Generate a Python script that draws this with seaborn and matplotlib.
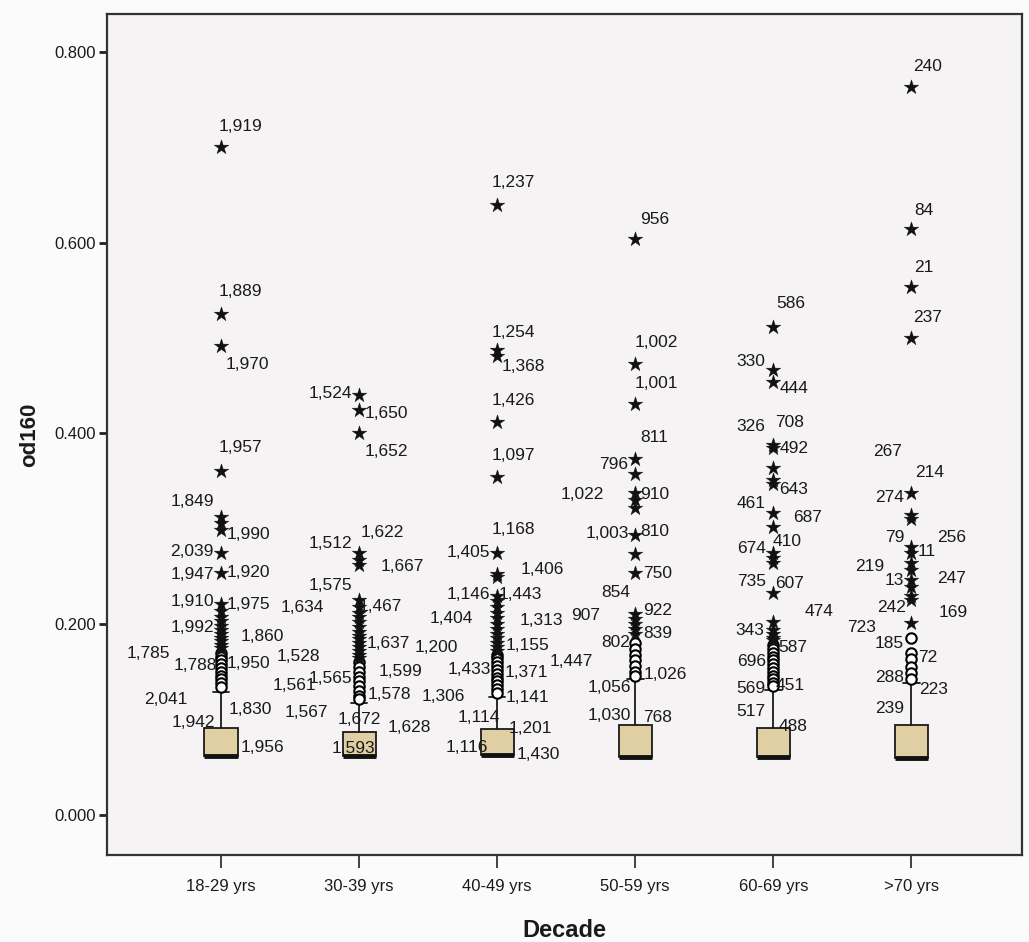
import matplotlib
matplotlib.use("Agg")
import matplotlib.pyplot as plt
from matplotlib.ticker import FuncFormatter
import numpy as np
import pandas as pd
import seaborn as sns

# ---------------- data ----------------
decades = ["18-29 yrs", "30-39 yrs", "40-49 yrs", "50-59 yrs", "60-69 yrs", ">70 yrs"]

box_q1 = [0.062, 0.062, 0.063, 0.061, 0.061, 0.060]
box_median = [0.062, 0.062, 0.063, 0.061, 0.061, 0.060]
box_q3 = [0.091, 0.087, 0.090, 0.094, 0.091, 0.094]
whisker_low = [0.062, 0.062, 0.063, 0.061, 0.061, 0.060]
whisker_high = [0.129, 0.117, 0.124, 0.142, 0.131, 0.138]

# extreme values (stars)
extremes_18_29 = [0.700, 0.525, 0.492, 0.361, 0.312, 0.306, 0.299, 0.275, 0.254, 0.221,
                  0.214, 0.208, 0.203, 0.198, 0.194, 0.190, 0.186, 0.182, 0.178, 0.175]
extremes_30_39 = [0.440, 0.425, 0.400, 0.275, 0.267, 0.262, 0.225, 0.218, 0.212, 0.207,
                  0.202, 0.197, 0.192, 0.188, 0.184, 0.180, 0.176, 0.172, 0.168, 0.165]
extremes_40_49 = [0.640, 0.487, 0.481, 0.412, 0.354, 0.275, 0.253, 0.249, 0.230, 0.224,
                  0.218, 0.212, 0.206, 0.200, 0.195, 0.190, 0.185, 0.180, 0.176, 0.172]
extremes_50_59 = [0.604, 0.473, 0.431, 0.373, 0.357, 0.338, 0.330, 0.322, 0.293, 0.274,
                  0.254, 0.211, 0.205, 0.200, 0.195, 0.190]
extremes_60_69 = [0.512, 0.467, 0.454, 0.388, 0.385, 0.364, 0.351, 0.347, 0.317, 0.302,
                  0.275, 0.269, 0.264, 0.233, 0.202, 0.194, 0.190, 0.186, 0.183]
extremes_70 = [0.763, 0.614, 0.553, 0.500, 0.338, 0.314, 0.310, 0.281, 0.275, 0.264,
               0.257, 0.246, 0.239, 0.229, 0.225, 0.201]

# outliers (open circles)
outliers_18_29 = [0.170, 0.166, 0.162, 0.158, 0.154, 0.150, 0.146, 0.142, 0.138, 0.134]
outliers_30_39 = [0.160, 0.155, 0.150, 0.145, 0.140, 0.135, 0.130, 0.125, 0.121]
outliers_40_49 = [0.168, 0.164, 0.160, 0.156, 0.152, 0.148, 0.144, 0.140, 0.136, 0.132, 0.128]
outliers_50_59 = [0.180, 0.174, 0.168, 0.162, 0.156, 0.150, 0.146]
outliers_60_69 = [0.178, 0.174, 0.170, 0.166, 0.162, 0.158, 0.154, 0.150, 0.146, 0.142, 0.138, 0.135]
outliers_70 = [0.186, 0.170, 0.163, 0.155, 0.149, 0.142]

# case labels and the value level at which each label sits
case_ids_18_29 = ["1,919", "1,889", "1,970", "1,957", "1,849", "1,990", "2,039", "1,947", "1,920",
                  "1,910", "1,975", "1,992", "1,860", "1,785", "1,788", "1,950", "2,041", "1,830",
                  "1,942", "1,956"]
case_y_18_29 = [0.722, 0.549, 0.472, 0.385, 0.329, 0.294, 0.276, 0.252, 0.254,
                0.224, 0.221, 0.196, 0.187, 0.169, 0.157, 0.159, 0.121, 0.110, 0.097, 0.071]
case_ids_30_39 = ["1,524", "1,650", "1,652", "1,622", "1,512", "1,667", "1,575", "1,467", "1,634",
                  "1,528", "1,637", "1,599", "1,565", "1,561", "1,578", "1,567", "1,672", "1,628",
                  "1,593"]
case_y_30_39 = [0.442, 0.421, 0.381, 0.296, 0.285, 0.260, 0.241, 0.218, 0.217,
                0.166, 0.180, 0.150, 0.143, 0.136, 0.126, 0.107, 0.100, 0.092, 0.070]
case_ids_40_49 = ["1,237", "1,254", "1,368", "1,426", "1,097", "1,168", "1,405", "1,406", "1,146",
                  "1,443", "1,404", "1,313", "1,200", "1,155", "1,447", "1,433", "1,371", "1,306",
                  "1,141", "1,114", "1,201", "1,116", "1,430"]
case_y_40_49 = [0.663, 0.506, 0.470, 0.435, 0.377, 0.299, 0.275, 0.257, 0.231,
                0.231, 0.206, 0.204, 0.176, 0.178, 0.161, 0.152, 0.149, 0.124,
                0.123, 0.102, 0.091, 0.071, 0.063]
case_ids_50_59 = ["956", "1,002", "1,001", "811", "796", "1,022", "910", "1,003", "810", "750",
                  "854", "922", "907", "802", "839", "1,026", "1,056", "1,030", "768"]
case_y_50_59 = [0.624, 0.495, 0.452, 0.396, 0.367, 0.336, 0.336, 0.295, 0.297, 0.253,
                0.233, 0.214, 0.209, 0.181, 0.190, 0.147, 0.134, 0.104, 0.102]
case_ids_60_69 = ["586", "330", "444", "326", "708", "492", "643", "461", "687", "674", "410",
                  "735", "607", "474", "343", "587", "696", "569", "451", "517", "488"]
case_y_60_69 = [0.536, 0.475, 0.447, 0.407, 0.411, 0.384, 0.341, 0.326, 0.312, 0.279, 0.287,
                0.245, 0.243, 0.213, 0.193, 0.175, 0.161, 0.133, 0.136, 0.108, 0.093]
case_ids_70 = ["240", "84", "21", "237", "267", "214", "274", "79", "11", "256", "219", "13",
               "247", "242", "169", "723", "185", "72", "288", "223", "239"]
case_y_70 = [0.785, 0.634, 0.574, 0.521, 0.381, 0.359, 0.333, 0.291, 0.276, 0.291, 0.260, 0.246,
             0.248, 0.217, 0.212, 0.196, 0.180, 0.165, 0.144, 0.131, 0.112]

# ---------------- layout (horizontal label offsets, in category units) ----------------
case_dx_18_29 = [0.14, 0.14, 0.19, 0.14, -0.21, 0.20, -0.21, -0.21, 0.20,
                 -0.21, 0.20, -0.21, 0.30, -0.53, -0.19, 0.20, -0.40, 0.21, -0.20, 0.30]
case_dx_30_39 = [-0.21, 0.20, 0.20, 0.17, -0.21, 0.31, -0.21, 0.15, -0.41,
                 -0.44, 0.21, 0.30, -0.21, -0.47, 0.22, -0.38, 0.0, 0.36, -0.04]
case_dx_40_49 = [0.12, 0.12, 0.19, 0.12, 0.12, 0.12, -0.21, 0.33, -0.21,
                 0.17, -0.33, 0.32, -0.44, 0.22, 0.54, -0.20, 0.21, -0.39,
                 0.22, -0.13, 0.24, -0.22, 0.30]
case_dx_50_59 = [0.14, 0.15, 0.15, 0.14, -0.16, -0.38, 0.14, -0.20, 0.14, 0.16,
                 -0.14, 0.16, -0.36, -0.14, 0.16, 0.22, -0.19, -0.19, 0.16]
case_dx_60_69 = [0.13, -0.16, 0.15, -0.16, 0.12, 0.15, 0.15, -0.16, 0.25, -0.16, 0.10,
                 -0.16, 0.12, 0.33, -0.17, 0.14, -0.16, -0.16, 0.12, -0.16, 0.14]
case_dx_70 = [0.12, 0.09, 0.09, 0.12, -0.17, 0.13, -0.16, -0.12, 0.11, 0.29, -0.30, -0.12,
              0.29, -0.14, 0.30, -0.36, -0.16, 0.12, -0.16, 0.16, -0.16]

extremes_all = [extremes_18_29, extremes_30_39, extremes_40_49, extremes_50_59, extremes_60_69, extremes_70]
outliers_all = [outliers_18_29, outliers_30_39, outliers_40_49, outliers_50_59, outliers_60_69, outliers_70]
case_ids_all = [case_ids_18_29, case_ids_30_39, case_ids_40_49, case_ids_50_59, case_ids_60_69, case_ids_70]
case_y_all = [case_y_18_29, case_y_30_39, case_y_40_49, case_y_50_59, case_y_60_69, case_y_70]
case_dx_all = [case_dx_18_29, case_dx_30_39, case_dx_40_49, case_dx_50_59, case_dx_60_69, case_dx_70]

df_ext = pd.DataFrame({"Decade": [d for d, v in zip(decades, extremes_all) for _ in v],
                       "od160": [x for v in extremes_all for x in v]})
df_out = pd.DataFrame({"Decade": [d for d, v in zip(decades, outliers_all) for _ in v],
                       "od160": [x for v in outliers_all for x in v]})

# ---------------- style ----------------
sns.set_theme(style="ticks")
plt.rcParams["font.family"] = ["Liberation Sans", "DejaVu Sans"]

fig = plt.figure(figsize=(10.29, 9.42), dpi=100, facecolor="#FBFBFB")
ax = fig.add_axes([0.104, 0.0924, 0.889, 0.893])
ax.set_facecolor("#F5F3F4")

sns.stripplot(data=df_out, x="Decade", y="od160", order=decades, jitter=False,
              marker="o", color="white", edgecolor="black", linewidth=1.5, size=7.5,
              ax=ax, zorder=3)
sns.stripplot(data=df_ext, x="Decade", y="od160", order=decades, jitter=False,
              marker="*", color="#111111", edgecolor="#111111", linewidth=0.3, size=11,
              ax=ax, zorder=4)

stats = [dict(med=m, q1=a, q3=b, whislo=lo, whishi=hi, fliers=[])
         for m, a, b, lo, hi in zip(box_median, box_q1, box_q3, whisker_low, whisker_high)]
ax.bxp(stats, positions=list(range(len(decades))), widths=0.24, patch_artist=True,
       showfliers=False, manage_ticks=False,
       boxprops=dict(facecolor="#E0CFA2", edgecolor="#1a1a1a", linewidth=1.3),
       medianprops=dict(color="#111111", linewidth=3.5),
       whiskerprops=dict(color="#1a1a1a", linewidth=1.3),
       capprops=dict(color="#1a1a1a", linewidth=1.3), capwidths=0.12,
       zorder=2)

for i, (ids, ys, dxs) in enumerate(zip(case_ids_all, case_y_all, case_dx_all)):
    for t, y, dx in zip(ids, ys, dxs):
        ax.text(i + dx, y, t, ha="center", va="center", fontsize=12.5, color="#1a1a1a", zorder=5)

ax.set_xlim(-0.826, 5.80)
ax.set_ylim(-0.042, 0.840)
ax.set_yticks([0.0, 0.2, 0.4, 0.6, 0.8])
ax.yaxis.set_major_formatter(FuncFormatter(lambda v, p: f"{v:.3f}"))
ax.set_xticks(range(len(decades)))
ax.set_xticklabels(decades)
ax.tick_params(axis="y", direction="out", length=6, width=2, color="#222222",
               labelsize=12, pad=2, labelcolor="#1a1a1a")
ax.tick_params(axis="x", direction="out", length=9, width=1.2, color="#222222",
               labelsize=12, pad=8, labelcolor="#1a1a1a")
for s in ax.spines.values():
    s.set_visible(True)
    s.set_color("#333333")
    s.set_linewidth(1.6)

ax.set_xlabel("Decade", fontsize=17, fontweight="bold", labelpad=18, color="#1a1a1a")
ax.set_ylabel("od160", fontsize=16, fontweight="bold", labelpad=10, color="#1a1a1a")

fig.savefig("out.png", dpi=100, facecolor=fig.get_facecolor())
